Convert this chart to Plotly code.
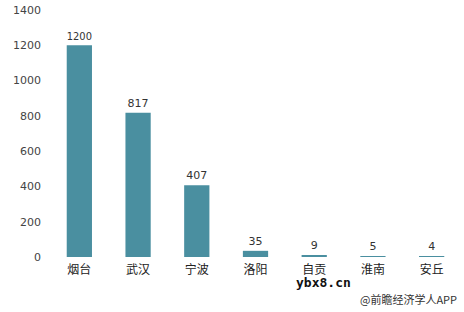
import plotly.graph_objects as go

cities = ["烟台", "武汉", "宁波", "洛阳", "自贡", "淮南", "安丘"]
values = [1200, 817, 407, 35, 9, 5, 4]
y_ticks = [0, 200, 400, 600, 800, 1000, 1200, 1400]

fig = go.Figure(go.Bar(
    x=cities, y=values,
    marker=dict(color="#4a8fa0", line=dict(width=0)),
    text=[str(v) for v in values], textposition="outside",
    textfont=dict(family="DejaVu Sans, Verdana, sans-serif", size=11, color="#333333"),
    cliponaxis=False,
))

fig.update_layout(
    width=464, height=312,
    margin=dict(l=50, r=3, t=10, b=55),
    paper_bgcolor="white", plot_bgcolor="white",
    bargap=0.57,
    showlegend=False,
    xaxis=dict(showline=False, ticks="", showgrid=False, ticklabelstandoff=4,
               tickfont=dict(family="Noto Sans CJK SC, sans-serif", size=12, color="#222222")),
    yaxis=dict(range=[0, 1400], tickvals=y_ticks, showgrid=False, zeroline=False,
               showline=False, ticks="", ticklabelstandoff=8,
               tickfont=dict(family="DejaVu Sans, Verdana, sans-serif", size=11, color="#444444")),
    annotations=[
        dict(text="<b>ybx8.cn</b>", xref="paper", yref="paper", x=0.665, y=-0.105,
             xanchor="center", yanchor="middle", showarrow=False,
             font=dict(family="DejaVu Sans Mono, monospace", size=13, color="#111111")),
        dict(text="@前瞻经济学人APP", xref="paper", yref="paper", x=0.995, y=-0.172,
             xanchor="right", yanchor="middle", showarrow=False,
             font=dict(family="Noto Sans CJK SC, sans-serif", size=11, color="#333333")),
    ],
)

fig.write_html("out.html")
